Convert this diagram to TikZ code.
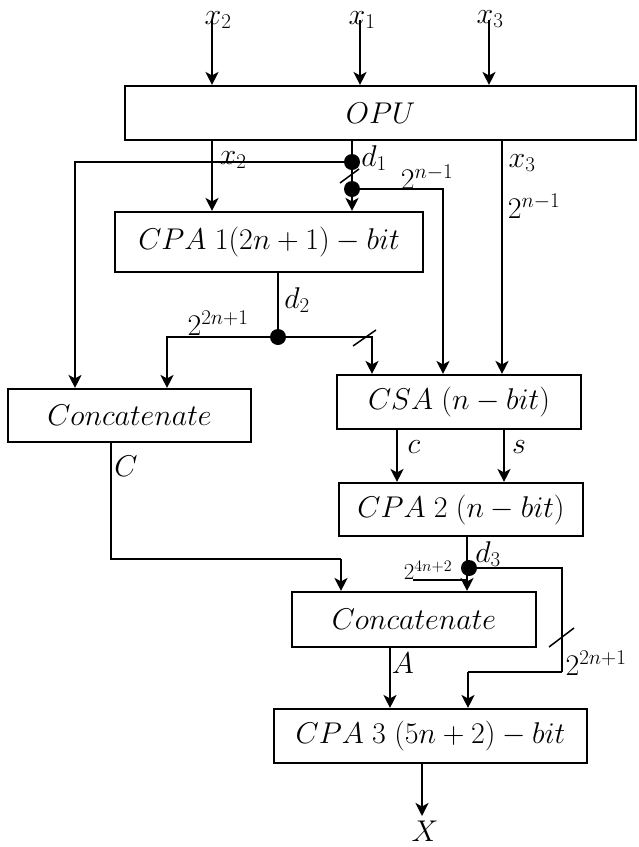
\RequirePackage{fix-cm}
\documentclass[tikz,border=0pt]{standalone}
\usetikzlibrary{arrows.meta}
\begin{document}
\begin{tikzpicture}[x=1pt,y=-1pt,
  box/.style={draw,line width=2.1pt,inner sep=0pt,font=\fontsize{30}{34}\selectfont},
  lbl/.style={inner sep=0pt,font=\fontsize{30}{34}\selectfont},
  slbl/.style={inner sep=0pt,font=\fontsize{23}{26}\selectfont},
  arr/.style={line width=2.2pt,-{Stealth[length=13pt,width=13pt,inset=3.5pt]}},
  wire/.style={line width=2.2pt},
  thinw/.style={line width=1.4pt},
  dot/.style={circle,fill=black,inner sep=0pt,minimum size=16pt},
  slashl/.style={line width=1.5pt}]
\useasboundingbox (0,0) rectangle (638,847);

% boxes
\node[box,minimum width=511pt,minimum height=54pt] (opu) at (380.5,113) {$OPU$};
\node[box,minimum width=308pt,minimum height=60pt] (cpa1) at (269,242) {$CPA\;1(2n+1)-bit$};
\node[box,minimum width=243pt,minimum height=53pt] (cat1) at (129.5,415.5) {$Concatenate$};
\node[box,minimum width=244pt,minimum height=54pt] (csa) at (459,402) {$CSA\;(n-bit)$};
\node[box,minimum width=244pt,minimum height=53pt] (cpa2) at (461,509.5) {$CPA\;2\;(n-bit)$};
\node[box,minimum width=244pt,minimum height=55pt] (cat2) at (414,619.5) {$Concatenate$};
\node[box,minimum width=313pt,minimum height=54pt] (cpa3) at (430.5,736) {$CPA\;3\;(5n+2)-bit$};

% input coordinates
\coordinate (in2) at (212,20);
\coordinate (in1) at (360,20);
\coordinate (in3) at (489,20);
\draw[arr] (in2) -- (in2 |- opu.north);
\draw[arr] (in1) -- (in1 |- opu.north);
\draw[arr] (in3) -- (in3 |- opu.north);
\node[lbl] at (218,20) {$x_2$};
\node[lbl] at (362,20) {$x_1$};
\node[lbl] at (490,19) {$x_3$};

% OPU outputs
\node[dot] (dA) at (352,162) {};
\node[dot] (dB) at (352,189) {};
\coordinate (lc) at (75,162);
\coordinate (rc) at (443,189);
\coordinate (x3c) at (502,140);
\draw[arr] (in2 |- opu.south) -- (in2 |- cpa1.north);
\draw[arr] (opu.south -| dA) -- (cpa1.north -| dA);
\draw[arr] (dA) -- (lc) -- (lc |- cat1.north);
\draw[arr] (dB) -- (rc) -- (rc |- csa.north);
\draw[arr] (x3c |- opu.south) -- (x3c |- csa.north);
\draw[slashl] (340,183) -- (359,169);
\node[lbl] at (233,160) {$x_2$};
\node[lbl] at (374,158) {$d_1$};
\node[lbl] at (427,177) {$2^{n-1}$};
\node[lbl] at (522,163) {$x_3$};
\node[lbl] at (534,206) {$2^{n-1}$};

% d2
\node[dot] (dC) at (278,337) {};
\coordinate (lc2) at (167,337);
\coordinate (rc2) at (372,337);
\draw[thinw] (cpa1.south -| dC) -- (dC);
\draw[arr] (dC) -- (lc2) -- (lc2 |- cat1.north);
\draw[arr] (dC) -- (rc2) -- (rc2 |- csa.north);
\draw[slashl] (353,346) -- (376,330);
\node[lbl] at (297,300) {$d_2$};
\node[lbl] at (218,323) {$2^{2n+1}$};

% CSA to CPA2
\coordinate (cc) at (397,0);
\coordinate (sc) at (504,0);
\draw[arr] (csa.south -| cc) -- (cpa2.north -| cc);
\draw[arr] (csa.south -| sc) -- (cpa2.north -| sc);
\node[lbl] at (414,447) {$c$};
\node[lbl] at (519,447) {$s$};

% C path
\coordinate (cA) at (111,559);
\coordinate (cB) at (341,559);
\draw[thinw] (cat1.south -| cA) -- (cA) -- (cB);
\draw[arr] (cB) -- (cB |- cat2.north);
\node[lbl] at (126,466) {$C$};

% d3
\node[dot] (dD) at (469,568) {};
\coordinate (d3x) at (467,0);
\draw[thinw] (cpa2.south -| d3x) -- (d3x |- dD);
\draw[arr] (d3x |- dD) -- (d3x |- cat2.north);
\node[lbl] at (488,554) {$d_3$};
\node[slbl] (p4) at (428,570) {$2^{4n+2}$};
\draw[thinw] (413,580) -- (467,580);

\coordinate (rA) at (562,568);
\coordinate (rB) at (562,672);
\coordinate (rC) at (468,672);
\draw[wire] (dD) -- (rA) -- (rB);
\draw[thinw] (rB) -- (rC);
\draw[arr] (rC) -- (rC |- cpa3.north);
\draw[slashl] (549,647) -- (574,628);
\node[lbl] at (596,663) {$2^{2n+1}$};

% A
\coordinate (ac) at (390,0);
\draw[arr] (cat2.south -| ac) -- (cpa3.north -| ac);
\node[lbl] at (403,663) {$A$};

% X
\coordinate (xo) at (422,816);
\draw[arr] (cpa3.south -| xo) -- (xo);
\node[lbl] at (425,831) {$X$};
\end{tikzpicture}
\end{document}
